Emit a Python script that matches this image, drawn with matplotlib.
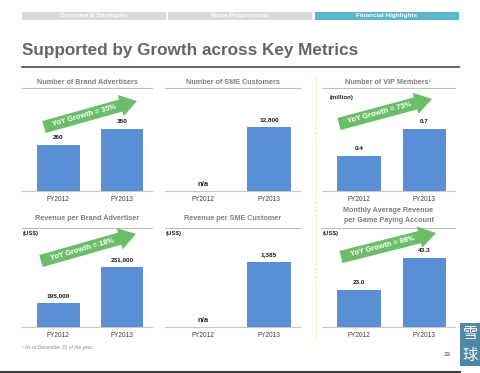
import numpy as np
import matplotlib
matplotlib.use("Agg")
import matplotlib.pyplot as plt
from matplotlib.patches import FancyArrow, Rectangle

plt.rcParams["font.family"] = ["Liberation Sans", "Noto Sans CJK SC", "DejaVu Sans"]

W, H = 480, 373
bar_color = "#5a8fd6"
green = "#6cbd6a"
gray_title = "#7f7f7f"

years = ["FY2012", "FY2013"]

# panel data
brand_adv = [260, 350]
sme_cust = [np.nan, 12800]
vip_members = [0.4, 0.7]
rev_brand = [195000, 231000]
rev_sme = [np.nan, 1385]
arpu_game = [23.0, 43.3]

brand_adv_lbl = ["260", "350"]
sme_cust_lbl = ["n/a", "12,800"]
vip_members_lbl = ["0.4", "0.7"]
rev_brand_lbl = ["195,000", "231,000"]
rev_sme_lbl = ["n/a", "1,385"]
arpu_game_lbl = ["23.0", "43.3"]

growth = ["YoY Growth = 35%", None, "YoY Growth = 75%",
          "YoY Growth = 18%", None, "YoY Growth = 88%"]

fig = plt.figure(figsize=(W / 100, H / 100), dpi=100)

# overlay in pixel coordinates for slide decorations
ov = fig.add_axes([0, 0, 1, 1])
ov.set_xlim(0, W)
ov.set_ylim(H, 0)
ov.axis("off")


def px_axes(x0, y_top, x1, y_bot):
    return fig.add_axes([x0 / W, 1 - y_bot / H, (x1 - x0) / W, (y_bot - y_top) / H])


# navigation bar
nav = [("Overview & Strategies", 22, 166, "#d9d9d9"),
       ("Value Propositions", 168, 312, "#d9d9d9"),
       ("Financial Highlights", 315, 459, "#5ab6c9")]
for txt, a, b, c in nav:
    ov.add_patch(Rectangle((a, 12), b - a, 7.5, color=c, lw=0))
    ov.text((a + b) / 2, 15.9, txt, color="white", fontsize=4.6, fontweight="bold",
            ha="center", va="center")

ov.text(22, 50, "Supported by Growth across Key Metrics", fontsize=12.3,
        fontweight="bold", color="#656565", ha="left", va="center")
ov.plot([22, 459], [67, 67], color="#595959", lw=1.3)

# yellow dashed separator
ov.plot([315.5, 315.5], [77, 340], color="#efe3a6", lw=0.8, ls=(0, (2, 1.5)))

# footnote, page number, logo, bottom line
ov.text(22, 347, "¹ As of December 31 of the year.", fontsize=3.6, style="italic",
        color="#8c8c8c", ha="left", va="center")
ov.text(447, 354, "33", fontsize=4.5, color="#404040", ha="center", va="center")
ov.add_patch(Rectangle((460, 323), 20, 43, color="#4f87a8", lw=0))
ov.text(470, 333.5, "雪", fontsize=11, color="white", ha="center", va="center",
        family=["Noto Sans CJK SC"])
ov.text(470, 355, "球", fontsize=11, color="white", ha="center", va="center",
        family=["Noto Sans CJK SC"])
ov.plot([0, 460], [371.5, 371.5], color="#3f3f3f", lw=1.5)

panels = [
    # title lines, x0, x1, title_y, line_y, base_y, values, labels, ylim, unit, arrow
    (["Number of Brand Advertisers"], 22, 152, 82, 88, 191, brand_adv, brand_adv_lbl,
     (0, 510), None, ((44, 127), (137, 101))),
    (["Number of SME Customers"], 165, 300, 82, 88, 191, sme_cust, sme_cust_lbl,
     (0, 18200), None, None),
    (["Number of VIP Members¹"], 322, 455, 82, 88, 191, vip_members, vip_members_lbl,
     (0, 1.03), "(million)", ((339, 124), (432, 99))),
    (["Revenue per Brand Advertiser"], 22, 152, 219, 228, 327, rev_brand, rev_brand_lbl,
     (171000, 262000), "(US$)", ((41, 261), (136, 234))),
    (["Revenue per SME Customer"], 165, 300, 219, 228, 327, rev_sme, rev_sme_lbl,
     (0, 1940), "(US$)", None),
    (["Monthly Average Revenue", "per Game Paying Account"], 322, 455, 211, 228, 327,
     arpu_game, arpu_game_lbl, (0, 57.1), "(US$)", ((341, 257), (436, 233))),
]

xpos = np.arange(len(years))
for i, (tlines, x0, x1, ty, ly, by, vals, lbls, ylim, unit, arr) in enumerate(panels):
    # title and underline
    for k, t in enumerate(tlines):
        ov.text((x0 + x1) / 2, ty + k * 9, t, fontsize=5.2, fontweight="bold",
                color=gray_title, ha="center", va="center")
    ov.plot([x0, x1], [ly, ly], color="#bfbfbf", lw=0.8)
    if unit:
        ov.text(x0 + 1 if unit == "(US$)" else x0 + 8, ly + 6 if unit == "(US$)" else 98,
                unit, fontsize=4.4, fontweight="bold", color="#262626",
                ha="left", va="center")

    ax = px_axes(x0, by - 91, x1, by)
    ax.patch.set_alpha(0)
    v = np.array(vals, dtype=float)
    ax.bar(xpos, np.nan_to_num(v - ylim[0], nan=0), bottom=ylim[0], width=0.67,
           color=bar_color, zorder=2)
    ax.set_xlim(-0.57, 1.47)
    ax.set_ylim(*ylim)
    for xp, val, lb in zip(xpos, v, lbls):
        if np.isnan(val):
            ax.text(xp, ylim[0], lb, fontsize=5.5, fontweight="bold", color="#262626",
                    ha="center", va="bottom",
                    transform=ax.transData)
            ax.texts[-1].set_y(ylim[0] + (ylim[1] - ylim[0]) * 0.035)
        else:
            ax.annotate(lb, (xp, val), xytext=(0, 3.5), textcoords="offset points",
                        fontsize=4.6, fontweight="bold", color="#1a1a1a",
                        ha="center", va="bottom")
    ax.set_xticks(xpos, years)
    ax.set_yticks([])
    ax.tick_params(axis="x", length=0, pad=3.5, labelsize=4.8, labelcolor="#404040")
    for s in ["top", "right", "left"]:
        ax.spines[s].set_visible(False)
    ax.spines["bottom"].set_color("#c8c8c8")
    ax.spines["bottom"].set_linewidth(0.8)

    if arr:
        (ax0, ay0), (ax1, ay1) = arr
        ov.add_patch(FancyArrow(ax0, ay0, ax1 - ax0, ay1 - ay0, width=12.5,
                                head_width=22, head_length=17,
                                length_includes_head=True, color=green, lw=0, zorder=3))
        ang = np.degrees(np.arctan2(ay0 - ay1, ax1 - ax0))
        mx = ax0 + (ax1 - ax0) * 0.44
        my = ay0 + (ay1 - ay0) * 0.44
        ov.text(mx, my, growth[i], fontsize=5.4, fontweight="bold", color="white",
                rotation=ang, rotation_mode="anchor", ha="center", va="center", zorder=4)

fig.savefig("out.png", dpi=100)
